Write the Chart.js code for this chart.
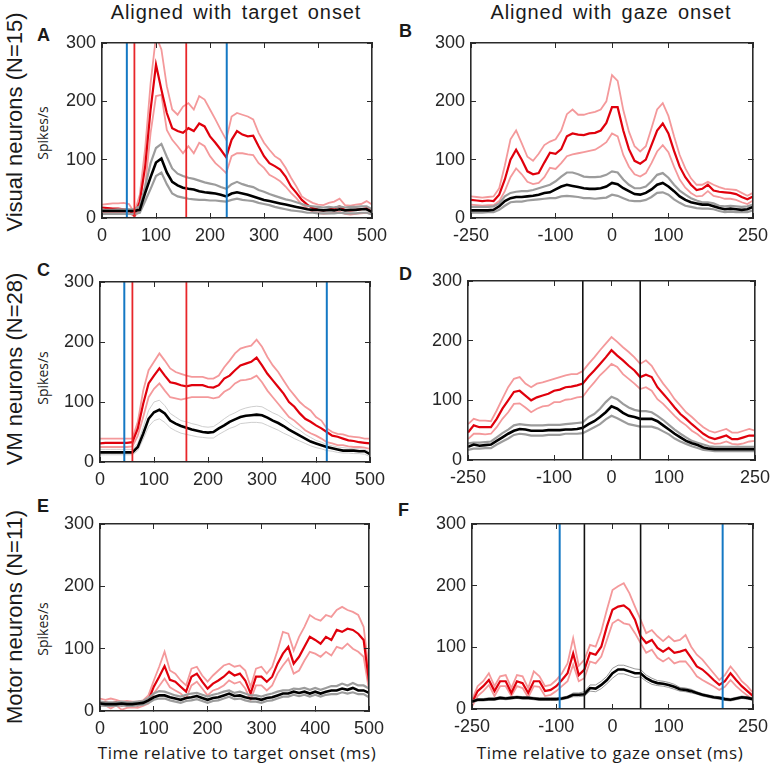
<!DOCTYPE html>
<html>
<head>
<meta charset="utf-8">
<script src="https://cdn.jsdelivr.net/npm/chart.js@4/dist/chart.umd.min.js"></script>
<style>
  body { margin: 0; background: #fff; width: 775px; height: 769px; position: relative; overflow: hidden;
         font-family: "Liberation Sans", Arial, sans-serif; color: #1a1a1a; }
  canvas { position: absolute; }
  .t { position: absolute; white-space: nowrap; transform: translate(-50%, -50%); }
  .rot { transform: translate(-50%, -50%) rotate(-90deg); }
  .col { font-size: 20px; letter-spacing: 0.9px; word-spacing: 3px; }
  .row { font-size: 22px; }
  .unit { font-family: "Open Sans", sans-serif; font-size: 14px; }
  .xt { font-family: "Open Sans", sans-serif; font-size: 17px; letter-spacing: 0.5px; }
  .lt { position: absolute; font-weight: bold; font-size: 18px; line-height: 18px; }
</style>
</head>
<body>
<div class="t col" style="left:236px;top:12px">Aligned with target onset</div>
<div class="t col" style="left:611px;top:12px">Aligned with gaze onset</div>

<div class="t rot row" style="left:15px;top:122px">Visual neurons (N=15)</div>
<div class="t rot row" style="left:15px;top:369px">VM neurons (N=28)</div>
<div class="t rot row" style="left:15px;top:617px">Motor neurons (N=11)</div>

<div class="t rot unit" style="left:42px;top:133px">Spikes/s</div>
<div class="t rot unit" style="left:42px;top:378px">Spikes/s</div>
<div class="t rot unit" style="left:42px;top:629px">Spikes/s</div>

<div class="lt" style="left:37px;top:26px">A</div>
<div class="lt" style="left:399px;top:22px">B</div>
<div class="lt" style="left:37px;top:261px">C</div>
<div class="lt" style="left:399px;top:265px">D</div>
<div class="lt" style="left:37px;top:497px">E</div>
<div class="lt" style="left:398px;top:501px">F</div>

<div class="t xt" style="left:237px;top:752px">Time relative to target onset (ms)</div>
<div class="t xt" style="left:610px;top:752px">Time relative to gaze onset (ms)</div>

<canvas id="pA"></canvas>
<canvas id="pB"></canvas>
<canvas id="pC"></canvas>
<canvas id="pD"></canvas>
<canvas id="pE"></canvas>
<canvas id="pF"></canvas>

<script>
// time axes (ms)
var timeTarget = [0,10,20,30,40,50,60,70,80,90,100,110,120,130,140,150,160,170,180,190,200,210,220,230,240,250,
  260,270,280,290,300,310,320,330,340,350,360,370,380,390,400,410,420,430,440,450,460,470,480,490,500];
var timeGaze = [-250,-240,-230,-220,-210,-200,-190,-180,-170,-160,-150,-140,-130,-120,-110,-100,-90,-80,-70,-60,
  -50,-40,-30,-20,-10,0,10,20,30,40,50,60,70,80,90,100,110,120,130,140,150,160,170,180,190,200,210,220,230,240,250];
var ticksTarget = [0, 100, 200, 300, 400, 500];
var ticksGaze = [-250, -100, 0, 100, 250];
var ticksRate = [0, 100, 200, 300];

// A: visual neurons, target aligned
var redA   = [18,17,16,16,15,14,4,28,89,186,263,220,180,154,149,146,154,149,162,157,140,129,117,104,134,149,143,140,141,123,106,94,89,83,71,54,43,31,23,17,14,13,14,17,20,14,13,14,15,17,11];
var redHiA = [23,24,25,25,26,24,9,40,120,231,312,289,226,186,177,191,197,186,209,203,186,169,151,134,174,180,177,174,169,146,129,117,106,100,86,69,54,37,31,26,23,22,26,28,33,22,21,23,24,29,23];
var redLoA = [9,9,9,9,10,9,3,12,55,146,209,211,151,134,123,111,123,111,129,123,106,94,86,77,106,111,111,109,108,94,86,74,69,63,54,43,34,23,17,10,9,7,8,9,11,7,6,7,8,9,6];
var blackA = [12,12,12,12,12,12,12,14,43,70,95,102,78,62,56,52,50,49,46,44,43,42,40,37,42,44,42,40,37,34,31,29,27,25,23,21,19,17,15,14,14,13,14,13,15,13,14,14,15,15,10];
var grayHiA = [14,14,14,15,15,15,15,20,54,94,120,127,105,85,76,72,69,67,64,61,59,57,53,50,58,62,58,55,53,48,45,41,38,35,32,30,27,24,21,20,19,18,19,18,20,18,19,19,20,20,15];
var grayLoA = [7,7,7,7,7,7,7,9,29,50,72,78,58,42,37,35,33,32,31,31,30,30,29,28,31,33,31,30,29,26,24,22,19,17,15,13,12,11,9,9,8,8,8,8,9,8,8,8,9,9,6];
var blueLinesA = [46, 231];
var redLinesA = [60, 156];

// B: visual neurons, gaze aligned
var redB   = [31,30,29,30,29, 40,66,100,117,100,80,75,77,95,112, 110,118,140,145,143,142,145,146,150,163,
              190,190,150,118,98,93,100,125,150,162, 145,115,88,70,57,48,50,57,47,45, 44,43,41,36,32,37];
var redHiB = [37,36,35,36,37, 51,90,135,150,128,105,98,110,125,131, 135,150,178,186,177,177,180,182,186,200,
              245,235,185,148,123,114,123,154,186,197, 175,140,108,85,68,57,57,62,57,53, 50,49,48,43,38,43];
var redLoB = [23,22,21,22,22, 29,46,70,85,75,62,58,60,70,86, 84,94,106,109,111,113,115,117,123,130,
              145,140,108,88,75,71,77,94,114,125, 113,88,66,52,43,37,38,46,38,36, 33,33,31,27,24,30];
var blackB = [13,13,13,13,14, 20,29,34,36,36,37,38,40,43,44, 49,54,57,55,53,51,50,50,51,54,
              60,58,51,46,41,40,43,49,57,60, 54,46,37,31,27,25,23,23,20,17, 15,16,15,14,15,19];
var grayHiB = [19,19,19,19,20, 25,37,43,45,46,46,48,51,54,57, 63,71,78,78,75,71,70,70,71,74,
               80,78,66,57,51,51,54,63,74,77, 69,57,47,40,34,30,27,27,25,21, 20,21,20,19,20,23];
var grayLoB = [9,9,9,10,10, 14,21,27,28,28,30,31,32,33,34, 34,37,38,37,36,34,34,33,34,35,
               40,38,34,30,29,29,31,36,43,44, 40,32,26,21,19,17,16,16,15,12, 10,11,10,10,10,13];

// C: VM neurons, target aligned
var redC   = [31,32,32,32,32,32,33,56,97,131, 144,156,144,133,131,128,126,128,128,128, 125,124,128,139,144,153,161,164,167,174,
              161,147,136,125,114,100,92,81,72,67, 61,56,50,44,42,39,36,35,33,32, 31];
var redHiC = [39,39,39,39,39,39,39,67,119,153, 167,181,169,156,150,147,144,142,142,142, 139,139,144,158,169,181,189,192,194,204,
              192,175,161,150,136,122,111,100,92,86, 75,69,56,50,47,46,43,42,41,39, 39];
var redLoC = [25,25,25,25,25,25,26,44,75,108, 122,131,119,108,106,104,106,108,108,108, 108,106,108,117,122,131,136,137,139,144,
              133,119,108,97,86,75,69,61,53,48, 44,39,33,31,28,28,26,25,25,24, 22];
var blackC = [16,16,16,16,16,16,16,25,47,72, 83,87,81,69,64,60,57,54,52,50, 49,50,56,61,67,71,75,77,78,79,
              78,74,69,65,60,54,49,44,39,34, 31,28,25,23,21,19,19,19,18,18, 13];
var grayHiC = [21,21,21,21,21,21,21,31,58,86, 100,103,94,81,75,69,67,64,62,59, 58,59,65,72,78,82,87,90,92,93,
               92,87,82,78,72,65,58,53,46,41, 36,33,29,27,25,24,23,22,22,21, 17];
var grayLoC = [12,12,12,12,12,12,12,19,38,59, 69,72,66,57,52,48,46,44,42,41, 40,40,46,51,56,59,64,65,66,66,
               65,61,57,53,48,44,39,35,31,27, 24,22,19,18,16,15,15,14,14,13, 9];
var blueLinesC = [45, 420];
var redLinesC = [60, 160];

// D: VM neurons, gaze aligned
var redD   = [46,58,55,55,55, 69,86,100,114,116,108,100,105,108,111, 116,118,122,123,125,128,140,150,161,172,
              184,175,167,158,150,139,143,139,122,111, 100,88,77,69,60,52,44,38,35,38, 41,35,35,38,41,41];
var redHiD = [60,69,66,66,65, 83,103,122,136,139,128,122,128,130,133, 136,139,142,144,144,149,161,172,184,195,
              206,198,189,181,172,161,167,158,142,128, 116,102,91,80,72,63,55,49,46,49, 52,46,46,49,52,49];
var redLoD = [35,44,44,43,44, 55,69,80,94,95,88,80,86,90,91, 97,97,101,102,105,106,119,130,142,151,
              161,156,144,136,128,119,122,116,102,94, 84,74,65,58,49,43,35,30,27,28, 31,27,26,28,31,32];
var blackD = [22,26,24,25,26, 32,38,44,49,52,51,49,49,49,50, 50,50,51,51,52,54,60,65,72,80,
              90,86,79,74,72,69,69,69,65,58, 51,44,38,32,28,25,21,19,18,18, 18,18,18,18,18,18];
var grayHiD = [28,29,29,30,31, 38,45,51,58,60,59,58,58,58,59, 59,59,60,61,62,63,72,77,86,97,
               106,102,94,88,84,82,82,80,74,67, 59,51,44,38,32,29,26,23,22,22, 22,22,22,22,22,22];
var grayLoD = [17,19,19,20,20, 26,31,36,42,44,43,41,41,41,42, 42,42,44,44,44,45,50,55,60,68,
               74,70,65,60,58,56,56,56,53,48, 43,36,31,27,23,20,17,16,15,15, 15,15,15,15,15,15];
var blackLinesD = [-50, 50];

// E: motor neurons, target aligned
var redE   = [14,14,12,14,9,11,11,9,12,17, 39,55,72,50,47,39,31,55,60,47, 36,44,49,55,63,57,60,49,28,55,
              55,47,55,76,92,103,76,87,103,119, 114,108,119,114,130,127,132,130,124,114, 47];
var redHiE = [20,18,20,18,15,16,15,15,17,25, 49,71,95,65,60,49,41,68,71,57, 47,57,65,73,76,71,73,65,39,68,
              71,60,71,97,127,124,97,119,135,154, 148,145,154,151,162,167,162,159,154,135, 63];
var redLoE = [9,9,4,9,2,5,6,5,8,12, 28,40,52,38,33,28,20,41,47,36, 25,33,36,41,49,44,47,36,18,41,
              41,33,41,60,73,84,60,65,81,95, 92,87,95,89,103,100,108,100,95,87, 33];
var blackE = [12,11,11,11,12,11,11,12,13,17, 22,25,25,22,20,18,21,22,24,21, 18,21,22,25,28,24,25,22,20,20,
              18,21,22,25,28,28,31,29,31,28, 31,28,31,33,33,36,34,37,33,33, 29];
var grayHiE = [15,14,14,14,15,14,14,15,16,21, 28,32,31,28,25,23,26,28,29,26, 23,26,28,31,33,29,31,28,25,25,
               23,26,28,31,33,33,36,35,37,34, 37,34,37,40,40,44,41,45,41,41, 36];
var grayLoE = [9,8,8,8,9,8,8,9,10,13, 18,20,20,17,15,13,16,17,19,16, 13,16,17,20,23,19,20,17,15,15,
               13,16,17,20,23,23,26,24,26,23, 26,23,26,27,27,30,28,30,27,27, 22];

// F: motor neurons, gaze aligned
var redF   = [10,29,37,47,29, 45,45,26,45,42,26,45,45,29,31, 37,47,58,90,55,64,91,88,101,134,
              161,166,168,161,145,118,107,112,99,93, 99,91,93,96,83,69,64,56,47,39, 45,58,47,37,29,21];
var redHiF = [15,37,45,58,37, 53,55,34,55,53,34,61,53,37,39, 47,58,74,115,70,80,104,101,126,161,
              193,199,204,188,166,145,123,128,118,110, 118,110,112,120,101,88,80,69,58,47, 55,69,58,45,37,26];
var redLoF = [4,21,29,39,21, 37,37,21,37,34,19,37,36,21,23, 29,37,45,72,45,50,77,74,85,112,
              139,145,139,137,123,107,91,96,83,77, 83,74,77,77,66,53,47,42,37,31, 36,47,37,29,22,15];
var blackF = [12,15,15,16,16, 18,17,18,19,18,18,17,16,16,16, 16,17,19,23,23,24,34,33,39,47,
              58,64,64,61,58,58,50,45,42,41, 39,36,32,31,29,26,23,21,19,18, 16,15,17,19,18,16];
var grayHiF = [14,17,17,18,18, 20,19,20,21,20,20,19,18,18,18, 18,19,21,26,26,28,39,39,45,53,
               66,71,71,68,65,64,55,50,46,45, 43,40,35,34,32,28,25,23,21,20, 18,17,19,21,20,18];
var grayLoF = [10,13,13,14,14, 16,15,16,17,16,16,15,14,14,14, 14,15,17,20,20,21,29,28,33,41,
               50,57,57,54,51,52,45,40,38,37, 35,32,29,28,26,24,21,19,17,16, 14,13,15,17,16,14];
var blueLinesF = [-94, 196];
var blackLinesF = [-50, 50];

function pts(times, vals) {
  return times.map(function (t, i) { return { x: t, y: vals[i] }; });
}

function vline(t, color, w) {
  return { data: [{ x: t, y: 0 }, { x: t, y: 300 }], borderColor: color, borderWidth: w };
}

// one side of the box; the opposite side has no labels, ticks point inwards
function boxAxis(pos, values, min, max, labels, size) {
  var horizontal = pos === 'bottom' || pos === 'top';
  return {
    type: 'linear', position: pos, min: min, max: max,
    afterBuildTicks: function (sc) { sc.ticks = values.map(function (v) { return { value: v }; }); },
    afterFit: function (sc) {
      if (horizontal) sc.height = size; else sc.width = size;
      // fixed plot area: labels may hang into the layout padding
      sc.paddingTop = sc.paddingBottom = sc.paddingLeft = sc.paddingRight = 0;
    },
    border: { display: true, color: '#2a2a2a', width: 1.6, z: 1 },
    grid: { display: true, drawOnChartArea: false, drawTicks: true, tickLength: -5, color: '#2a2a2a', lineWidth: 1, z: 1 },
    ticks: {
      display: labels, autoSkip: false, maxRotation: 0,
      font: { family: '"Liberation Sans", Arial, sans-serif', size: 18 },
      color: '#262626', padding: horizontal ? 12 : 11
    }
  };
}

function makePanel(id, box, times, xTicks, s, marks, grayStyle) {
  var cv = document.getElementById(id);
  cv.width = box[2] + 85;
  cv.height = box[3] + 42;
  cv.style.left = (box[0] - 60) + 'px';
  cv.style.top = (box[1] - 12) + 'px';

  var ds = marks.slice();
  ds.push({ data: pts(times, s.black), borderColor: '#000', borderWidth: 2.6 });
  ds.push({ data: pts(times, s.grayHi), borderColor: grayStyle[0], borderWidth: grayStyle[1] });
  ds.push({ data: pts(times, s.grayLo), borderColor: grayStyle[0], borderWidth: grayStyle[1] });
  ds.push({ data: pts(times, s.red), borderColor: '#e0000c', borderWidth: 2.2 });
  ds.push({ data: pts(times, s.redHi), borderColor: '#f4999b', borderWidth: 1.8 });
  ds.push({ data: pts(times, s.redLo), borderColor: '#f4999b', borderWidth: 1.8 });

  var xMin = xTicks[0], xMax = xTicks[xTicks.length - 1];
  return new Chart(cv.getContext('2d'), {
    type: 'line',
    data: { datasets: ds },
    options: {
      responsive: false,
      animation: false,
      layout: { padding: { left: 0, top: 12, right: 25, bottom: 0 } },
      elements: { point: { radius: 0 }, line: { tension: 0 } },
      plugins: { legend: { display: false }, tooltip: { enabled: false } },
      scales: {
        x: boxAxis('bottom', xTicks, xMin, xMax, true, 30),
        x2: boxAxis('top', xTicks, xMin, xMax, false, 0),
        y: boxAxis('left', ticksRate, 0, 300, true, 60),
        y2: boxAxis('right', ticksRate, 0, 300, false, 0)
      }
    }
  });
}

var BLUE = '#1478c4', RED = '#e8262a', BLACK = '#111';
var grayThick = ['#9c9c9c', 2.2];

makePanel('pA', [102, 43, 270, 175], timeTarget, ticksTarget,
  { red: redA, redHi: redHiA, redLo: redLoA, black: blackA, grayHi: grayHiA, grayLo: grayLoA },
  blueLinesA.map(function (t) { return vline(t, BLUE, 2); }).concat(redLinesA.map(function (t) { return vline(t, RED, 1.8); })),
  grayThick);

makePanel('pB', [471, 43, 282, 175], timeGaze, ticksGaze,
  { red: redB, redHi: redHiB, redLo: redLoB, black: blackB, grayHi: grayHiB, grayLo: grayLoB },
  [], grayThick);

makePanel('pC', [100, 282, 270, 180], timeTarget, ticksTarget,
  { red: redC, redHi: redHiC, redLo: redLoC, black: blackC, grayHi: grayHiC, grayLo: grayLoC },
  blueLinesC.map(function (t) { return vline(t, BLUE, 2); }).concat(redLinesC.map(function (t) { return vline(t, RED, 1.8); })),
  ['#c8c8c8', 0.9]);

makePanel('pD', [468, 281, 287, 179], timeGaze, ticksGaze,
  { red: redD, redHi: redHiD, redLo: redLoD, black: blackD, grayHi: grayHiD, grayLo: grayLoD },
  blackLinesD.map(function (t) { return vline(t, BLACK, 1.6); }),
  grayThick);

makePanel('pE', [100, 524, 269, 187], timeTarget, ticksTarget,
  { red: redE, redHi: redHiE, redLo: redLoE, black: blackE, grayHi: grayHiE, grayLo: grayLoE },
  [], grayThick);

makePanel('pF', [472, 524, 281, 185], timeGaze, ticksGaze,
  { red: redF, redHi: redHiF, redLo: redLoF, black: blackF, grayHi: grayHiF, grayLo: grayLoF },
  blueLinesF.map(function (t) { return vline(t, BLUE, 2); }).concat(blackLinesF.map(function (t) { return vline(t, BLACK, 1.6); })),
  ['#8c8c8c', 0.9]);
</script>
</body>
</html>
